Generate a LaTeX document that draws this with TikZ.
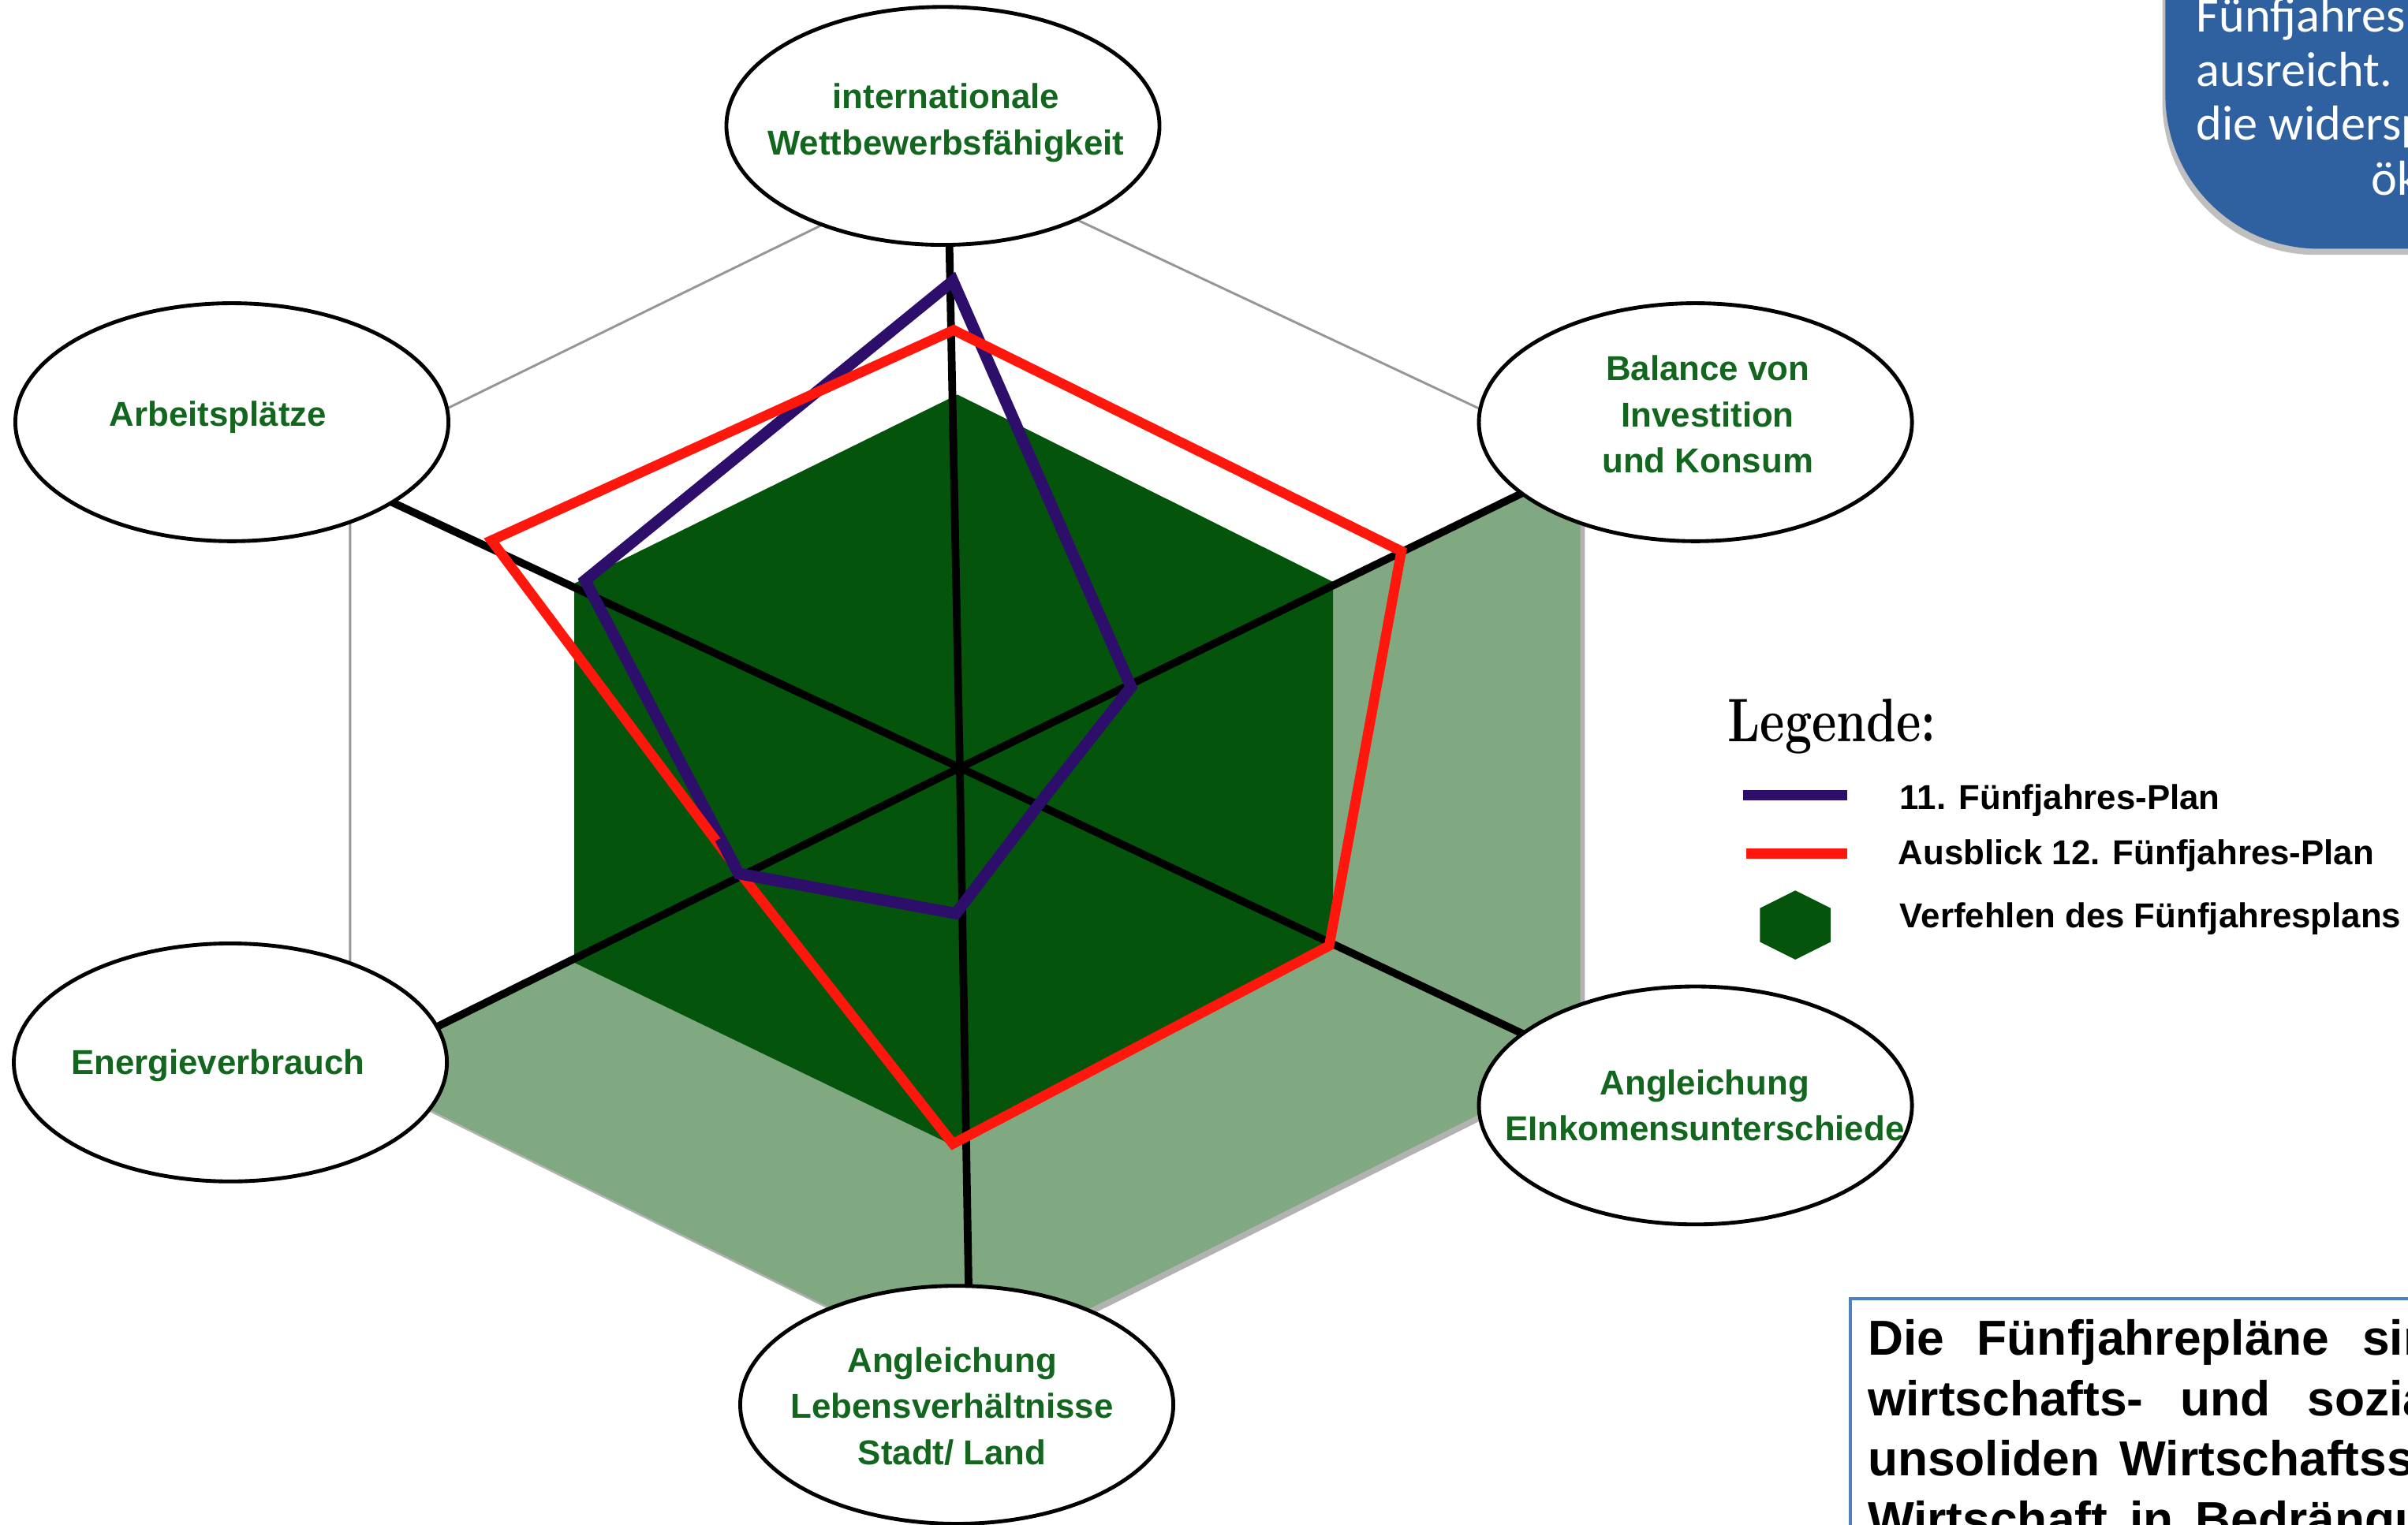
\documentclass[tikz,border=0pt]{standalone}
\usepackage{fontspec}
\newfontfamily\arialf{Liberation Sans}
\newfontfamily\calib{Carlito}
\usetikzlibrary{shapes.geometric,shadows,calc}
\definecolor{lgreen}{RGB}{128,169,130}
\definecolor{dgreen}{RGB}{4,84,12}
\definecolor{labgreen}{RGB}{18,102,30}
\definecolor{plum}{RGB}{46,14,107}
\definecolor{pred}{RGB}{255,22,12}
\definecolor{bluebox}{RGB}{47,97,160}
\definecolor{boxline}{RGB}{79,129,189}
\definecolor{hexgray}{RGB}{150,150,150}
\begin{document}
\begin{tikzpicture}[x=1pt,y=-1pt,
  ell/.style={ellipse, draw=black, line width=2.5pt, fill=white, minimum width=282pt, minimum height=155pt, inner sep=0pt},
  elltext/.style={text=labgreen, font=\arialf\bfseries\fontsize{22.5}{30}\selectfont, align=center, inner sep=0pt},
  axisline/.style={line width=5pt, black},
  plan11/.style={draw=plum, line width=7.5pt, line join=miter},
  plan12/.style={draw=pred, line width=6.5pt, line join=miter},
  legtext/.style={font=\arialf\bfseries\fontsize{22.5}{26}\selectfont, anchor=base west, inner sep=0pt},
  bluetext/.style={text=white, font=\calib\fontsize{32}{35}\selectfont, anchor=base west, inner sep=0pt},
  boxtext/.style={font=\arialf\bfseries\fontsize{32}{38}\selectfont, anchor=base west, inner sep=0pt},
]
\useasboundingbox (0,0) rectangle (1568,993);
\clip (0,0) rectangle (1568,993);
\fill[white] (0,0) rectangle (1568,993);

% ---------- coordinates ----------
\coordinate (C) at (625,500);
% outer hexagon
\coordinate (oT) at (620,105);
\coordinate (oUR) at (1029,297);
\coordinate (oLR) at (1029,693);
\coordinate (oB) at (626,894);
\coordinate (oLL) at (228,694);
\coordinate (oUL) at (228,297);
% light green corners
\coordinate (lgUR) at (1029,302);
\coordinate (lgLL) at (228,697);
% dark green hexagon
\coordinate (gT) at (623.5,257);
\coordinate (gUR) at (868,379);
\coordinate (gLR) at (868,616);
\coordinate (gB) at (620.5,746);
\coordinate (gLL) at (374,627);
\coordinate (gUL) at (374,380);
% axis ends
\coordinate (aT) at (618,150);
\coordinate (aUR) at (1010,312);
\coordinate (aLR) at (1012,683);
\coordinate (aB) at (631,855);
\coordinate (aLL) at (270,676);
\coordinate (aUL) at (240,320);
% red polygon
\coordinate (rT) at (621,215);
\coordinate (rUR) at (912.5,359);
\coordinate (rLR) at (865.5,616);
\coordinate (rB) at (620.5,745);
\coordinate (rLL) at (483,570);
\coordinate (rUL) at (320,352);
% purple polygon
\coordinate (pT) at (620.5,183);
\coordinate (pUR) at (736.5,447.5);
\coordinate (pLR) at (676,524.5);
\coordinate (pB) at (622.5,595);
\coordinate (pLL) at (481,569);
\coordinate (pUL) at (381,378);

% ---------- chart ----------
\fill[lgreen, drop shadow={shadow xshift=3pt, shadow yshift=-3pt, opacity=0.3, fill=black}]
  (C) -- (lgUR) -- (oLR) -- (oB) -- (lgLL) -- cycle;
\fill[dgreen] (gT) -- (gUR) -- (gLR) -- (gB) -- (gLL) -- (gUL) -- cycle;
\draw[hexgray, line width=1.5pt] (oLL) -- (oUL) -- (oT) -- (oUR);
\draw[axisline] (C) -- (aT);
\draw[axisline] (C) -- (aUR);
\draw[axisline] (C) -- (aLR);
\draw[axisline] (C) -- (aB);
\draw[axisline] (C) -- (aLL);
\draw[axisline] (C) -- (aUL);
\draw[plan11] (pT) -- (pUR) -- (pLR) -- (pB) -- (pLL) -- (pUL) -- cycle;
\draw[plan12] (rT) -- (rUR) -- (rLR) -- (rB) -- (rLL) -- (rUL) -- cycle;
% purple corner at the lower left lies over the red line
\draw[plan11] ($(pLL)!0.25!(pB)$) -- (pLL) -- ($(pLL)!0.12!(pUL)$);

% ---------- ellipses ----------
\node[ell] (eT) at (614,82) {};
\node[elltext] (lT) at (616,80) {internationale\\Wettbewerbsfähigkeit};
\node[ell] (eUL) at (151,275) {};
\node[elltext] (lUL) at (142,272) {Arbeitsplätze};
\node[ell] (eUR) at (1104,275) {};
\node[elltext] (lUR) at (1112,270) {Balance von\\Investition\\und Konsum};
\node[ell] (eLL) at (150,692) {};
\node[elltext] (lLL) at (142,694) {Energieverbrauch};
\node[ell] (eLR) at (1104,720) {};
\node[elltext] (lLR) at (1110,720) {Angleichung\\EInkomensunterschiede};
\node[ell] (eB) at (623,915) {};
\node[elltext] (lB) at (620,916) {Angleichung\\Lebensverhältnisse\\Stadt/ Land};

% ---------- legend ----------
\node[anchor=base west, inner sep=0pt, font=\bfseries\fontsize{40}{40}\selectfont] (leg) at (1125,483) {\scalebox{0.78}[1]{Legende:}};
\coordinate (l1a) at (1135,518);
\coordinate (l1b) at (1203,518);
\coordinate (l2a) at (1137,556);
\coordinate (l2b) at (1203,556);
\draw[plum, line width=7pt] (l1a) -- (l1b);
\draw[pred, line width=7pt] (l2a) -- (l2b);
\fill[dgreen] (1169,580) -- (1192,591.5) -- (1192,613.5) -- (1169,625) -- (1146,613.5) -- (1146,591.5) -- cycle;
\node[legtext] (lg1) at (1237,527) {11. Fünfjahres-Plan};
\node[legtext] (lg2) at (1236,563) {Ausblick 12. Fünfjahres-Plan};
\node[legtext] (lg3) at (1237,604) {Verfehlen des Fünfjahresplans};

% ---------- blue box top right ----------
\fill[bluebox, rounded corners=100pt, drop shadow={shadow xshift=-2pt, shadow yshift=-4pt, opacity=0.25, fill=black}]
  (1410,-300) -- (1410,162) -- (1800,162) -- (1800,-300) -- cycle;
\node[bluetext] (b1) at (1430,21) {Fünfjahres};
\node[bluetext] (b2) at (1430,56) {ausreicht.};
\node[bluetext] (b3) at (1430,91) {die widersp};
\node[bluetext] (b4) at (1544,127) {ök};

% ---------- text box bottom right ----------
\draw[boxline, line width=2pt, fill=white] (1205,846) rectangle (1700,1100);
\node[boxtext] (t1) at (1216,882.5) {Die\hspace{21.5pt}Fünfjahrepläne\hspace{21.5pt}sin};
\node[boxtext] (t2) at (1216,922) {wirtschafts-\hspace{24pt}und\hspace{24pt}sozia};
\node[boxtext] (t3) at (1216,961) {unsoliden\hspace{13pt}Wirtschaftss};
\node[boxtext] (t4) at (1216,1000.5) {Wirtschaft\hspace{14.5pt}in\hspace{14.5pt}Bedrängu};
\end{tikzpicture}
\end{document}
